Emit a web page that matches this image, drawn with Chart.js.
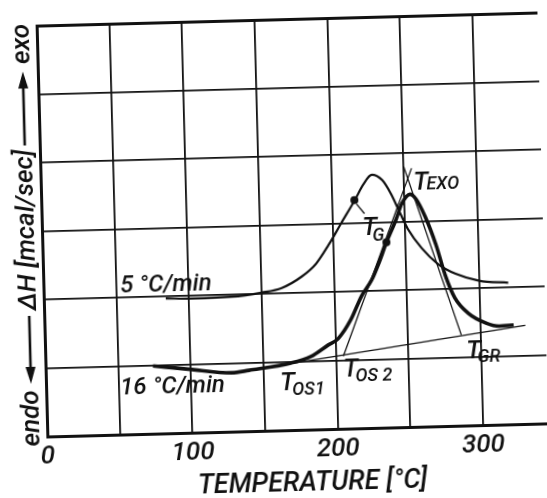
<!DOCTYPE html>
<html><head><meta charset="utf-8">
<script src="https://cdn.jsdelivr.net/npm/chart.js@4.4.0/dist/chart.umd.min.js"></script>
<style>
html,body{margin:0;padding:0;background:#fff;overflow:hidden;}
#wrap{width:547px;height:498px;position:relative;overflow:hidden;background:#fff;}
canvas{position:absolute;left:0;top:0;transform:rotate(-1.5deg);transform-origin:292.5px 228px;}
</style></head><body>
<div id="wrap"><canvas id="c" width="547" height="498"></canvas></div>
<script>
// ---- data (temperature in °C, ΔH in grid units) ----
const xLabelValues = [0, 100, 200, 300];
const xTitle = 'TEMPERATURE [°C]';
const yTitleMain = 'ΔH [mcal/sec]';
const yTitleUp = 'exo';
const yTitleDown = 'endo';

const temp5 = [84, 102, 129, 150, 164, 178, 188, 197, 206, 216, 222, 228, 235, 241, 247, 252, 261, 272, 284, 300, 320];
const dh5   = [1.97, 1.96, 1.97, 2.02, 2.08, 2.24, 2.42, 2.69, 3.00, 3.34, 3.56, 3.70, 3.62, 3.41, 3.12, 2.89, 2.61, 2.37, 2.22, 2.11, 2.07];

const temp16 = [74, 98, 128, 140, 169, 183, 195, 202, 211, 219, 226, 231, 237, 244, 248, 254, 258, 264, 271, 277, 283, 292, 304, 313, 323];
const dh16   = [0.99, 0.93, 0.86, 0.89, 0.98, 1.07, 1.23, 1.32, 1.59, 1.94, 2.16, 2.39, 2.71, 3.04, 3.26, 3.40, 3.33, 3.07, 2.65, 2.19, 1.87, 1.64, 1.49, 1.44, 1.45];

const baseT = [167, 331];         const baseDH = [0.965, 1.44];
const onsetTanT = [205.2, 255.5]; const onsetTanDH = [1.06, 3.78];
const endTanT = [286.8, 250.1];   const endTanDH = [1.324, 3.81];
const tgT = [215.6, 236.9];       const tgDH = [3.335, 2.708];
const leaderT = [217, 222.3];     const leaderDH = [3.279, 3.135];

const rateLabels = ['5 °C/min', '16 °C/min'];
const rateLabelT = [52.8, 51];    const rateLabelDH = [2.07, 0.588];

const markSubs = ['OS1', 'OS 2', 'GR', 'EXO', 'G'];
const markT  = [161.2, 204.8, 289.9, 256.5, 220.5];
const markDH = [0.585, 0.766, 0.984, 3.469, 2.814];

const pts = (xs, ys) => xs.map((v, i) => ({x: v, y: ys[i]}));
const INK = '#111';
const FAM = 'Roboto, "DejaVu Sans", sans-serif';

const labelPlugin = {
  id: 'labels',
  afterDatasetsDraw(chart) {
    const {ctx, scales: {x, y}} = chart;
    const subOff = {'OS1': [12, 5], 'OS 2': [12, 5], 'GR': [11, 4], 'EXO': [13, 0], 'G': [10, 6]};
    ctx.save();
    ctx.fillStyle = INK;
    ctx.textBaseline = 'alphabetic';
    ctx.textAlign = 'left';
    ctx.font = 'italic 500 24px ' + FAM;
    rateLabels.forEach((t, i) => ctx.fillText(t, x.getPixelForValue(rateLabelT[i]), y.getPixelForValue(rateLabelDH[i])));
    markSubs.forEach((s, i) => {
      const px = x.getPixelForValue(markT[i]), py = y.getPixelForValue(markDH[i]);
      ctx.font = 'italic 500 25px ' + FAM;
      ctx.fillText('T', px, py);
      ctx.font = 'italic 500 18px ' + FAM;
      const o = subOff[s];
      ctx.fillText(s, px + o[0], py + o[1]);
    });
    ctx.restore();
  },
  afterDraw(chart) {
    const {ctx, chartArea: ca} = chart;
    const cx = 27, t = ca.top;
    ctx.save();
    ctx.fillStyle = INK; ctx.strokeStyle = INK;
    ctx.font = 'italic 500 26px ' + FAM;
    ctx.textAlign = 'center'; ctx.textBaseline = 'middle';
    const vtext = (s, yc) => { ctx.save(); ctx.translate(cx, yc); ctx.rotate(-Math.PI / 2); ctx.fillText(s, 0, 0); ctx.restore(); };
    vtext(yTitleUp, t + 17.5);
    vtext(yTitleMain, t + 203.5);
    vtext(yTitleDown, t + 392);
    const arrow = (yFrom, yTip) => {
      const dir = Math.sign(yTip - yFrom);
      ctx.lineWidth = 2.6;
      ctx.beginPath(); ctx.moveTo(cx, yFrom); ctx.lineTo(cx, yTip - dir * 12); ctx.stroke();
      ctx.beginPath(); ctx.moveTo(cx, yTip); ctx.lineTo(cx - 5, yTip - dir * 17); ctx.lineTo(cx + 5, yTip - dir * 17); ctx.closePath(); ctx.fill();
    };
    arrow(t + 119, t + 45);
    arrow(t + 289.5, t + 357.5);
    ctx.restore();
  }
};

const lineDs = (data, w) => ({data, showLine: true, borderColor: INK, backgroundColor: INK, borderWidth: w, pointRadius: 0, fill: false, cubicInterpolationMode: 'monotone'});
const straight = (data, w) => Object.assign(lineDs(data, w), {cubicInterpolationMode: 'default', tension: 0});

new Chart(document.getElementById('c'), {
  type: 'scatter',
  data: {
    datasets: [
      lineDs(pts(temp5, dh5), 2.2),
      lineDs(pts(temp16, dh16), 3.6),
      straight(pts(baseT, baseDH), 1.3),
      straight(pts(onsetTanT, onsetTanDH), 1.3),
      straight(pts(endTanT, endTanDH), 1.3),
      straight(pts(leaderT, leaderDH), 1.3),
      {data: pts(tgT, tgDH), showLine: false, pointRadius: 4, pointBackgroundColor: INK, pointBorderColor: INK, borderWidth: 0}
    ]
  },
  options: {
    responsive: false,
    devicePixelRatio: 1,
    animation: false,
    layout: {padding: {left: 42, top: 19.5, right: 3, bottom: 0}},
    plugins: {legend: {display: false}, tooltip: {enabled: false}},
    scales: {
      x: {
        type: 'linear', min: 0, max: 345,
        ticks: {stepSize: 50, includeBounds: false, color: INK, padding: 7,
          font: {family: FAM, size: 26, style: 'italic', weight: 500, lineHeight: 1.0},
          maxRotation: 0, autoSkip: false,
          callback: v => xLabelValues.includes(v) ? String(v) : ''},
        grid: {color: INK, lineWidth: 1.8, drawTicks: false},
        border: {color: INK, width: 3},
        title: {display: true, text: '\u2003' + xTitle, color: INK, padding: {top: 1, bottom: 0},
          font: {family: FAM, size: 27, style: 'italic', weight: 500, lineHeight: 1}}
      },
      y: {
        type: 'linear', min: 0, max: 6,
        ticks: {display: false, stepSize: 1},
        grid: {color: INK, lineWidth: c => c.tick && c.tick.value === 6 ? 3 : 1.8, drawTicks: false},
        border: {color: INK, width: 3}
      }
    }
  },
  plugins: [labelPlugin]
});
</script>
</body></html>
